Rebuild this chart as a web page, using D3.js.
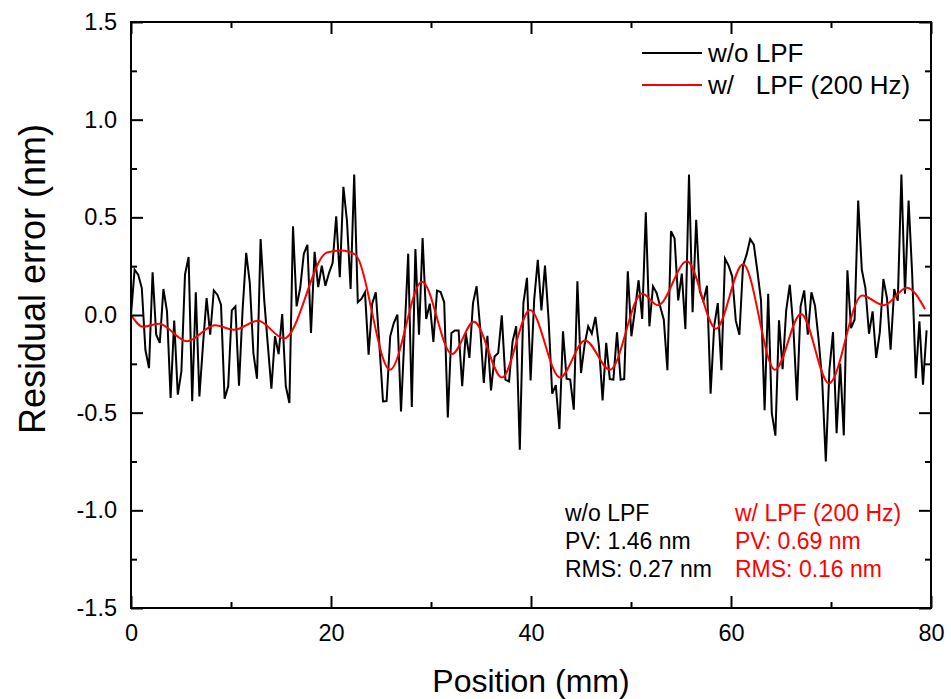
<!DOCTYPE html>
<html>
<head>
<meta charset="utf-8">
<script src="https://cdn.jsdelivr.net/npm/d3@7"></script>
<style>
body { margin: 0; background: #fff; }
text { font-family: Arial, "Liberation Sans", sans-serif; fill: #000; }
</style>
</head>
<body>
<div id="chart"></div>
<script>
// spacing between profile samples (mm)
var SAMPLE_STEP = 0.36;

// residual error w/o LPF (nm), one value per sample
var raw_err = [
  0.000, 0.232, 0.207, 0.138, -0.178, -0.272, 0.219, -0.101, -0.143, 0.133,
  0.019, -0.425, -0.029, -0.408, -0.289, 0.207, 0.297, -0.442, 0.116, -0.417,
  -0.152, 0.087, -0.101, 0.126, 0.104, 0.053, -0.429, -0.365, 0.024, 0.044,
  -0.362, 0.027, 0.318, 0.164, -0.195, -0.326, 0.389, 0.079, -0.152, -0.377,
  -0.109, -0.200, 0.005, -0.365, -0.451, 0.454, 0.044, 0.138, 0.313, 0.359,
  -0.092, 0.323, 0.143, 0.253, 0.150, 0.215, 0.266, 0.505, 0.193, 0.656,
  0.480, 0.133, 0.719, 0.065, 0.082, 0.116, -0.203, 0.058, 0.116, -0.152,
  -0.442, -0.441, -0.109, -0.041, 0.002, -0.494, -0.092, 0.314, -0.471, 0.338,
  -0.101, 0.394, -0.020, 0.058, -0.138, 0.125, 0.118, 0.065, -0.524, -0.092,
  -0.079, -0.079, -0.365, -0.092, -0.220, 0.061, 0.147, -0.067, -0.348, -0.106,
  -0.386, -0.212, -0.195, -0.002, -0.331, -0.340, -0.135, -0.058, -0.690, 0.061,
  0.190, -0.335, 0.079, 0.283, 0.024, 0.253, -0.024, -0.403, -0.359, -0.584,
  -0.084, -0.326, -0.331, -0.485, 0.172, -0.297, -0.152, -0.058, -0.096, -0.010,
  -0.161, -0.437, -0.143, -0.328, -0.331, -0.089, -0.331, -0.328, 0.224, -0.109,
  0.027, 0.178, -0.020, 0.526, -0.058, 0.147, 0.113, 0.044, -0.024, -0.283,
  0.429, 0.391, 0.075, 0.212, -0.072, 0.719, 0.014, 0.488, 0.121, 0.070,
  0.150, -0.403, -0.055, 0.061, -0.283, 0.289, 0.253, 0.198, -0.029, -0.101,
  0.253, 0.309, 0.389, 0.360, 0.224, 0.075, -0.488, 0.109, -0.502, -0.618,
  -0.027, -0.277, 0.024, 0.155, -0.067, -0.437, 0.044, 0.126, -0.101, 0.116,
  0.048, -0.126, -0.335, -0.750, -0.280, -0.087, -0.605, -0.249, -0.616, 0.229,
  -0.067, -0.024, 0.586, 0.232, 0.138, -0.096, 0.019, -0.220, -0.089, 0.184,
  0.087, -0.178, 0.133, 0.073, 0.719, 0.109, 0.586, 0.207, -0.323, -0.032,
  -0.357, -0.079
];

// residual error w/ LPF (200 Hz): position (mm) and value (nm) at turning points
var lpf_pos = [0, 1.2, 2.8, 5.6, 8.4, 10.3, 12.7, 15.3, 19.6, 21.0, 22.4, 25.9,
  29.1, 32.1, 34.3, 37.1, 39.9, 42.9, 45.4, 47.9, 51.1, 52.7, 55.6, 58.5,
  61.2, 64.4, 67.0, 69.8, 73.1, 75.3, 77.6, 79.4];
var lpf_err = [0.0, -0.06, -0.045, -0.135, -0.053, -0.075, -0.03, -0.12, 0.32, 0.33, 0.31, -0.28,
  0.17, -0.20, -0.035, -0.32, 0.025, -0.32, -0.13, -0.28, 0.11, 0.05, 0.275, -0.07,
  0.26, -0.28, 0.005, -0.35, 0.10, 0.05, 0.14, 0.03];

var x_major = [0, 20, 40, 60, 80];
var x_minor = [10, 30, 50, 70];
var y_major = [-1.5, -1.0, -0.5, 0.0, 0.5, 1.0, 1.5];
var y_minor = [-1.25, -0.75, -0.25, 0.25, 0.75, 1.25];

var legend_labels = ['w/o LPF', 'w/   LPF (200 Hz)'];
var legend_colors = ['#000', '#ff0000'];
var stats_raw = ['w/o LPF', 'PV: 1.46 nm', 'RMS: 0.27 nm'];
var stats_lpf = ['w/ LPF (200 Hz)', 'PV: 0.69 nm', 'RMS: 0.16 nm'];

var width = 951,
    height = 699,
    margin = {top: 22, right: 20, bottom: 91, left: 131},
    plot_w = width - margin.left - margin.right,
    plot_h = height - margin.top - margin.bottom;

var svg = d3.select('#chart').append('svg')
    .attr('width', width)
    .attr('height', height);

var x = d3.scaleLinear().domain([0, 80]).range([margin.left, margin.left + plot_w]);
var y = d3.scaleLinear().domain([-1.5, 1.5]).range([margin.top + plot_h, margin.top]);

var raw_pts = raw_err.map(function(v, i) { return [i * SAMPLE_STEP, v]; });
var lpf_pts = lpf_pos.map(function(p, i) { return [p, lpf_err[i]]; });

var line = d3.line()
    .x(function(d) { return x(d[0]); })
    .y(function(d) { return y(d[1]); });

svg.append('path')
    .datum(raw_pts)
    .attr('fill', 'none')
    .attr('stroke', '#000')
    .attr('stroke-width', 2)
    .attr('d', line);

svg.append('path')
    .datum(lpf_pts)
    .attr('fill', 'none')
    .attr('stroke', '#ff0000')
    .attr('stroke-width', 2)
    .attr('d', line.curve(d3.curveMonotoneX));

// axes: ticks point inward on all four sides
function draw_axis(axis_fn, scale, vals, len, pos, labels, pad) {
  var ax = axis_fn(scale)
      .tickValues(vals)
      .tickSize(-len)
      .tickPadding(pad || 0)
      .tickFormat(labels ? function(d) { return labels === 'x' ? d : d.toFixed(1); } : '');
  var g = svg.append('g')
      .attr('transform', pos)
      .call(ax);
  g.select('.domain').remove();
  g.selectAll('line').attr('stroke', '#000').attr('stroke-width', 2);
  g.selectAll('text').attr('font-size', 23.5).attr('fill', '#000')
      .style('font-family', 'Arial, "Liberation Sans", sans-serif');
  return g;
}

var bottom_y = 'translate(0,' + (margin.top + plot_h) + ')';
var top_y = 'translate(0,' + margin.top + ')';
var left_x = 'translate(' + margin.left + ',0)';
var right_x = 'translate(' + (margin.left + plot_w) + ',0)';

draw_axis(d3.axisBottom, x, x_major, 12, bottom_y, 'x', 16);
draw_axis(d3.axisBottom, x, x_minor, 6, bottom_y);
draw_axis(d3.axisTop, x, x_major, 12, top_y);
draw_axis(d3.axisTop, x, x_minor, 6, top_y);
draw_axis(d3.axisLeft, y, y_major, 12, left_x, 'y', 14);
draw_axis(d3.axisLeft, y, y_minor, 6, left_x);
draw_axis(d3.axisRight, y, y_major, 12, right_x);
draw_axis(d3.axisRight, y, y_minor, 6, right_x);

svg.append('rect')
    .attr('x', margin.left)
    .attr('y', margin.top)
    .attr('width', plot_w)
    .attr('height', plot_h)
    .attr('fill', 'none')
    .attr('stroke', '#000')
    .attr('stroke-width', 2);

// axis titles
svg.append('text')
    .attr('x', margin.left + plot_w / 2)
    .attr('y', 692)
    .attr('text-anchor', 'middle')
    .attr('font-size', 32)
    .text('Position (mm)');

svg.append('text')
    .attr('transform', 'translate(45,279) rotate(-90)')
    .attr('text-anchor', 'middle')
    .attr('font-size', 36)
    .text('Residual error (nm)');

// legend
var leg = svg.append('g').selectAll('g')
    .data(legend_labels)
    .enter().append('g')
    .attr('transform', function(d, i) { return 'translate(0,' + (53 + i * 32) + ')'; });
leg.append('line')
    .attr('x1', 642).attr('x2', 702)
    .attr('stroke', function(d, i) { return legend_colors[i]; })
    .attr('stroke-width', 2);
leg.append('text')
    .attr('x', 708)
    .attr('y', 9)
    .attr('font-size', 26)
    .style('white-space', 'pre')
    .attr('xml:space', 'preserve')
    .text(function(d) { return d; });

// PV / RMS notes
function draw_stats(lines, x0, colour) {
  svg.append('g').selectAll('text')
    .data(lines)
    .enter().append('text')
    .attr('x', x0)
    .attr('y', function(d, i) { return 521 + i * 28; })
    .attr('font-size', 23)
    .style('fill', colour)
    .text(function(d) { return d; });
}
draw_stats(stats_raw, 565, '#000');
draw_stats(stats_lpf, 735, '#ff0000');
</script>
</body>
</html>
